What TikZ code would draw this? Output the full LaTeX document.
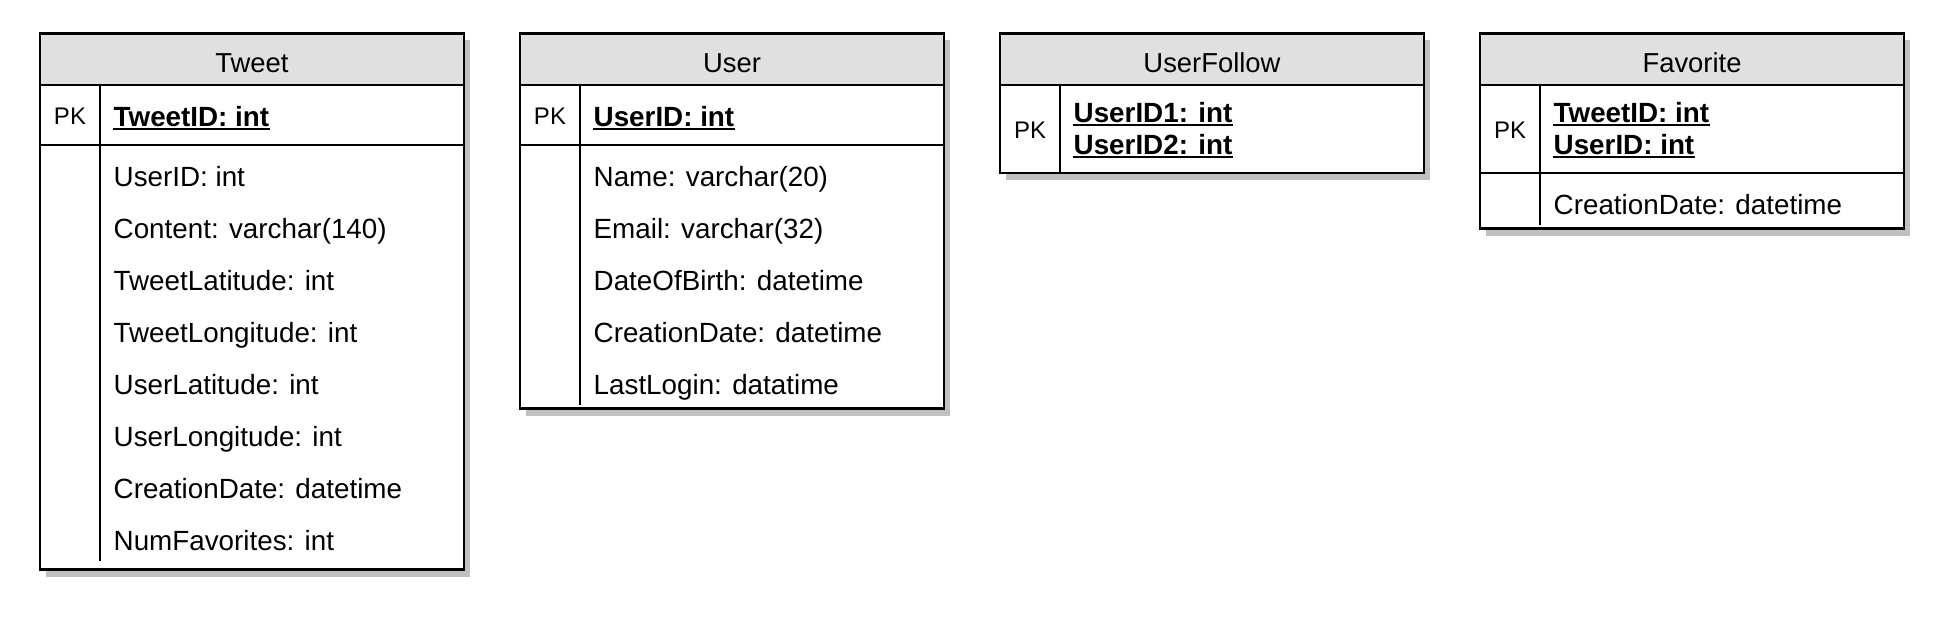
\documentclass[tikz,border=0pt]{standalone}
\usepackage{fontspec}
\setmainfont{Liberation Sans}
\definecolor{shadowgray}{HTML}{C0C0C0}
\definecolor{headgray}{HTML}{E0E0E0}
\begin{document}
\begin{tikzpicture}[x=0.5pt,y=-0.5pt,
  frame/.style={draw=black,line width=1.2pt},
  title/.style={font=\fontsize{13.7}{16}\selectfont,inner sep=0pt,anchor=base},
  attr/.style={font=\fontsize{13.9}{17}\selectfont,inner sep=0pt,anchor=base west},
  pkattr/.style={font=\fontsize{13.9}{17}\selectfont\bfseries,inner sep=0pt,anchor=base west},
  pklabel/.style={font=\fontsize{12}{14}\selectfont,inner sep=0pt,anchor=base},
  uline/.style={line width=1pt}
]
\useasboundingbox (0,0) rectangle (1956,628);

% ---------------- Tweet ----------------
\fill[shadowgray] (46,40) rectangle (470,576.5);
\fill[white] (40,33.5) rectangle (464,569.5);
\fill[headgray] (40,33.5) rectangle (464,85);
\draw[frame] (40,33.5) rectangle (464,569.5);
\draw[frame] (40,85) -- (464,85);
\draw[frame] (40,145) -- (464,145);
\draw[frame] (100,85) -- (100,561);
\node[title] (twtitle) at (252,72) {Tweet};
\node[pklabel] (twpk) at (70,124) {PK};
\node[pkattr] (twk1) at (113.3,126.6) {TweetID: int};
\draw[uline] ([yshift=-1.3pt]twk1.base west) -- ([yshift=-1.3pt]twk1.base east);
\foreach \t [count=\i] in {UserID: int, Content: varchar(140), TweetLatitude: int, TweetLongitude: int, UserLatitude: int, UserLongitude: int, CreationDate: datetime, NumFavorites: int}
  \node[attr] (twa\i) at (113.3,{186.2+52.06*(\i-1)}) {\t};

% ---------------- User ----------------
\fill[shadowgray] (526,40) rectangle (950,415.5);
\fill[white] (520,33.5) rectangle (944,408.5);
\fill[headgray] (520,33.5) rectangle (944,85);
\draw[frame] (520,33.5) rectangle (944,408.5);
\draw[frame] (520,85) -- (944,85);
\draw[frame] (520,145) -- (944,145);
\draw[frame] (580,85) -- (580,404.5);
\node[title] (ustitle) at (732,72) {User};
\node[pklabel] (uspk) at (550,124) {PK};
\node[pkattr] (usk1) at (593.3,126.6) {UserID: int};
\draw[uline] ([yshift=-1.3pt]usk1.base west) -- ([yshift=-1.3pt]usk1.base east);
\foreach \t [count=\i] in {Name: varchar(20), Email: varchar(32), DateOfBirth: datetime, CreationDate: datetime, LastLogin: datatime}
  \node[attr] (usa\i) at (593.3,{186.2+52.06*(\i-1)}) {\t};

% ---------------- UserFollow ----------------
\fill[shadowgray] (1006,40) rectangle (1430,180);
\fill[white] (1000,33.5) rectangle (1424,173);
\fill[headgray] (1000,33.5) rectangle (1424,85);
\draw[frame] (1000,33.5) rectangle (1424,173);
\draw[frame] (1000,85) -- (1424,85);
\draw[frame] (1060,85) -- (1060,173);
\node[title] (uftitle) at (1212,72) {UserFollow};
\node[pklabel] (ufpk) at (1030,138.2) {PK};
\node[pkattr] (ufk1) at (1073.3,122.1) {UserID1: int};
\node[pkattr] (ufk2) at (1073.3,154.2) {UserID2: int};
\draw[uline] ([yshift=-1.5pt]ufk1.base west) -- ([yshift=-1.5pt]ufk1.base east);
\draw[uline] ([yshift=-1.5pt]ufk2.base west) -- ([yshift=-1.5pt]ufk2.base east);

% ---------------- Favorite ----------------
\fill[shadowgray] (1486,40) rectangle (1910,235.5);
\fill[white] (1480,33.5) rectangle (1904,228.5);
\fill[headgray] (1480,33.5) rectangle (1904,85);
\draw[frame] (1480,33.5) rectangle (1904,228.5);
\draw[frame] (1480,85) -- (1904,85);
\draw[frame] (1480,173) -- (1904,173);
\draw[frame] (1540,85) -- (1540,224.5);
\node[title] (fvtitle) at (1692,72) {Favorite};
\node[pklabel] (fvpk) at (1510,138.2) {PK};
\node[pkattr] (fvk1) at (1553.3,122.1) {TweetID: int};
\node[pkattr] (fvk2) at (1553.3,154.2) {UserID: int};
\draw[uline] ([yshift=-1.5pt]fvk1.base west) -- ([yshift=-1.5pt]fvk1.base east);
\draw[uline] ([yshift=-1.5pt]fvk2.base west) -- ([yshift=-1.5pt]fvk2.base east);
\node[attr] (fva1) at (1553.3,214.3) {CreationDate: datetime};
\end{tikzpicture}
\end{document}
